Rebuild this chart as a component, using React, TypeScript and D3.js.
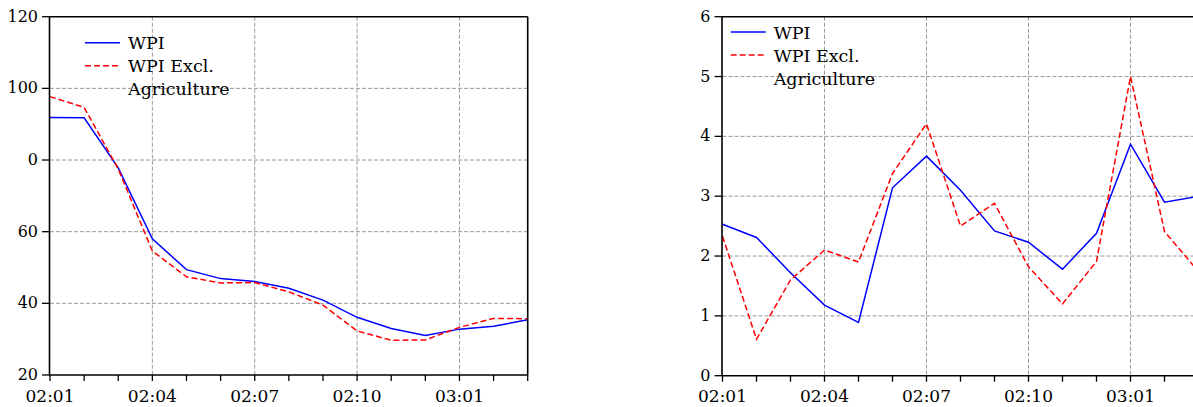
import React from "react";
import * as d3 from "d3";

const months = ["02:01","02:02","02:03","02:04","02:05","02:06","02:07","02:08","02:09","02:10","02:11","02:12","03:01","03:02","03:03"];
const labelEvery = 3;

const leftWPI = [91.9, 91.8, 77.8, 58.0, 49.4, 46.9, 46.1, 44.2, 40.9, 36.1, 33.0, 31.0, 32.8, 33.6, 35.4];
const leftExcl = [97.7, 94.7, 77.5, 54.6, 47.4, 45.7, 45.8, 43.2, 39.5, 32.3, 29.7, 29.8, 33.3, 35.8, 35.7];
const leftTicks = [20, 40, 60, 80, 100, 120];
const leftTickLabels = ["20", "40", "60", "0", "100", "120"];

const rightWPI = [2.53, 2.31, 1.72, 1.18, 0.89, 3.14, 3.67, 3.10, 2.42, 2.23, 1.78, 2.38, 3.87, 2.90, 3.0];
const rightExcl = [2.33, 0.61, 1.60, 2.10, 1.90, 3.38, 4.21, 2.50, 2.88, 1.82, 1.20, 1.91, 5.0, 2.41, 1.74];
const rightTicks = [0, 1, 2, 3, 4, 5, 6];
const rightTickLabels = ["0", "1", "2", "3", "4", "5", "6"];

const seriesNames = ["WPI", "WPI Excl.", "Agriculture"];

const FONT = "DejaVu Serif";

type PanelProps = {
  x0: number; x1: number; y0: number; y1: number;
  domain: [number, number];
  ticks: number[]; tickLabels: string[];
  a: number[]; b: number[];
  legendX: number; legendY: number;
  rightBorder: boolean;
};

function Panel(p: PanelProps) {
  const x = d3.scaleLinear().domain([0, months.length - 1]).range([p.x0, p.x1]);
  const y = d3.scaleLinear().domain(p.domain).range([p.y1, p.y0]);
  const line = d3.line<number>().x((_, i) => x(i)).y((d) => y(d));
  const top = y(p.domain[1]);
  const bottom = y(p.domain[0]);
  return (
    <g>
      {months.map((m, i) =>
        i % labelEvery === 0 && i !== 0 ? (
          <line key={"gx" + i} x1={x(i)} x2={x(i)} y1={top} y2={bottom} stroke="#999" strokeDasharray="4,2" />
        ) : null
      )}
      {p.ticks.map((t, i) =>
        i !== 0 && i !== p.ticks.length - 1 ? (
          <line key={"gy" + i} x1={p.x0} x2={p.x1} y1={y(t)} y2={y(t)} stroke="#999" strokeDasharray="4,2" />
        ) : null
      )}
      <path d={line(p.a) || ""} fill="none" stroke="#0000ff" strokeWidth={1.5} />
      <path d={line(p.b) || ""} fill="none" stroke="#ff0000" strokeWidth={1.5} strokeDasharray="6,3" />
      <line x1={p.x0 - 0.5} x2={p.x0 - 0.5} y1={top} y2={bottom} stroke="#000" strokeWidth={1.6} />
      <line x1={p.x0 - 0.5} x2={p.x1} y1={bottom} y2={bottom} stroke="#000" strokeWidth={1.6} />
      <line x1={p.x0 - 0.5} x2={p.x1} y1={top} y2={top} stroke="#000" strokeWidth={1.6} />
      {p.rightBorder && <line x1={p.x1} x2={p.x1} y1={top} y2={bottom} stroke="#000" strokeWidth={1.6} />}
      {p.ticks.map((t, i) => (
        <g key={"yt" + i}>
          <line x1={p.x0 - 8} x2={p.x0} y1={y(t)} y2={y(t)} stroke="#000" strokeWidth={1.3} />
          <text x={p.x0 - 12} y={y(t) + 5} textAnchor="end" fontFamily={FONT} fontSize={16} fill="#000">
            {p.tickLabels[i]}
          </text>
        </g>
      ))}
      {months.map((m, i) => (
        <g key={"xt" + i}>
          <line x1={x(i)} x2={x(i)} y1={bottom} y2={bottom + 6} stroke="#000" strokeWidth={1.3} />
          {i % labelEvery === 0 && (
            <text x={x(i)} y={401.5} textAnchor="middle" fontFamily={FONT} fontSize={17} fill="#000">
              {m}
            </text>
          )}
        </g>
      ))}
      <line x1={p.legendX} x2={p.legendX + 35} y1={p.legendY} y2={p.legendY} stroke="#0000ff" strokeWidth={1.5} />
      <line x1={p.legendX} x2={p.legendX + 35} y1={p.legendY + 23} y2={p.legendY + 23} stroke="#ff0000" strokeWidth={1.5} strokeDasharray="6,3" />
      {seriesNames.map((s, i) => (
        <text key={"lg" + i} x={p.legendX + 43} y={p.legendY + 6.5 + i * 23} fontFamily={FONT} fontSize={17.5} fill="#000">
          {s}
        </text>
      ))}
    </g>
  );
}

export default function App() {
  return (
    <div style={{ position: "fixed", left: 0, top: 0 }}>
      <svg width={1193} height={407} style={{ display: "block", background: "#fff" }}>
        <Panel x0={50} x1={527.7} y0={16.7} y1={375} domain={[20, 120]} ticks={leftTicks} tickLabels={leftTickLabels}
          a={leftWPI} b={leftExcl} legendX={85} legendY={42.7} rightBorder={true} />
        <Panel x0={722.5} x1={1198.5} y0={16.7} y1={375.7} domain={[0, 6]} ticks={rightTicks} tickLabels={rightTickLabels}
          a={rightWPI} b={rightExcl} legendX={730.7} legendY={32} rightBorder={true} />
      </svg>
    </div>
  );
}
